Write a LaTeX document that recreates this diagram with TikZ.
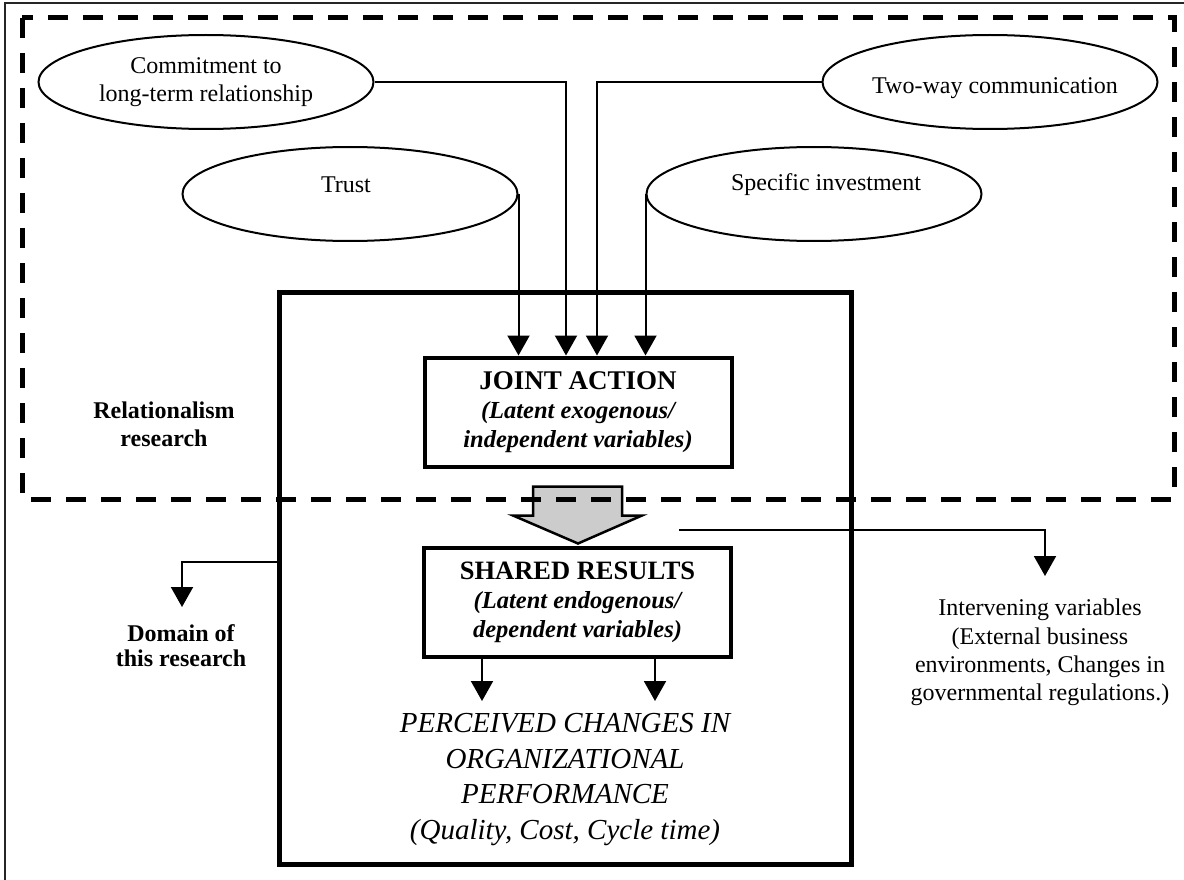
\documentclass[tikz,border=0pt]{standalone}
\usepackage{fontspec}
\setmainfont{Liberation Serif}
\usetikzlibrary{arrows.meta,shapes.geometric,calc}
\begin{document}
\begin{tikzpicture}[x=1pt,y=-1pt,
  arr/.style={line width=2pt,-{Triangle[width=22pt,length=20pt]}},
  ell/.style={draw,ellipse,line width=2pt,minimum width=335pt,minimum height=94pt,inner sep=0pt},
  etext/.style={font=\fontsize{24}{28}\selectfont,align=center,inner sep=0pt},
  keybox/.style={draw,line width=4pt,minimum width=307pt,minimum height=109pt,inner sep=0pt,align=center,
     font=\fontsize{24.5}{29}\selectfont\bfseries\itshape},
  regionbox/.style={draw,line width=5pt,minimum width=572pt,minimum height=572pt,inner sep=0pt},
  dashline/.style={line width=5pt,dash pattern=on 20pt off 15pt},
  lbl/.style={align=center,inner sep=0pt}]
\useasboundingbox (0,0) rectangle (1184,880);
% outer frame (top and left edges)
\draw[line width=1.6pt,black!85] (5,880) -- (5,3) -- (1184,3);
% big region box
\node[regionbox] (bigbox) at (565.5,578) {};
% ellipses
\node[ell,label={[etext]center:{Commitment to\\long-term relationship}}] (commit) at (206,82) {};
\node[ell,label={[etext,xshift=5pt,yshift=-6pt]center:Two-way communication}] (two) at (990,82) {};
\node[ell,label={[etext,xshift=-4pt,yshift=9pt]center:Trust}] (trust) at (350,194) {};
\node[ell,label={[etext,xshift=12pt,yshift=9pt]center:Specific investment}] (spec) at (814,194) {};
% key boxes
\node[keybox] (ja) at (578,412) {{\fontsize{27}{30}\selectfont\upshape JOINT ACTION}\\(Latent exogenous/\\independent variables)};
\node[keybox] (sr) at (577.5,602.5) {{\fontsize{26.5}{30}\selectfont\upshape SHARED RESULTS}\\(Latent endogenous/\\dependent variables)};
% gray block arrow
\draw[line width=2.5pt,fill=black!20,line join=miter]
  ($(ja.south)+(-45,18)$) -- ($(ja.south)+(44,18)$) -- ($(ja.south)+(44,47)$) --
  ($(ja.south)+(64,47)$) -- ($(ja.south)+(0,75)$) -- ($(ja.south)+(-65,47)$) --
  ($(ja.south)+(-45,47)$) -- cycle;
% dashed region
\draw[dashline] (22,18) rectangle (1174,499);
% connectors into joint action
\draw[arr] (commit.east) -| ([xshift=-12pt]ja.north);
\draw[arr] (two.west) -| ([xshift=19pt]ja.north);
\draw[arr] (trust.east) -- (trust.east |- ja.north);
\draw[arr] (spec.west) -- (spec.west |- ja.north);
% texts
\node[lbl,font=\fontsize{24}{28.3}\selectfont\bfseries] (rel) at (164,424.5) {Relationalism\\research};
\node[lbl,font=\fontsize{24}{25}\selectfont\bfseries] (dom) at (181,645.5) {Domain of\\this research};
\node[lbl,font=\fontsize{24}{28.3}\selectfont] (iv) at (1040,652.5) {Intervening variables\\(External business\\environments, Changes in\\governmental regulations.)};
\node[lbl,inner ysep=12pt,font=\fontsize{29}{35.7}\selectfont\itshape] (perc) at (565,779.5) {PERCEIVED CHANGES IN\\ORGANIZATIONAL\\PERFORMANCE\\(Quality, Cost, Cycle time)};
% connectors out
\coordinate (domtip) at (182,607);
\draw[arr] ([yshift=16pt]bigbox.west) -| (domtip);
\coordinate (ivs) at (679,530);
\coordinate (ivt) at (1045,576);
\draw[arr] (ivs) -| (ivt);
\draw[arr] ([xshift=-95.5pt]sr.south) -- ([xshift=-95.5pt]sr.south |- perc.north);
\draw[arr] ([xshift=77.5pt]sr.south) -- ([xshift=77.5pt]sr.south |- perc.north);
\end{tikzpicture}
\end{document}
